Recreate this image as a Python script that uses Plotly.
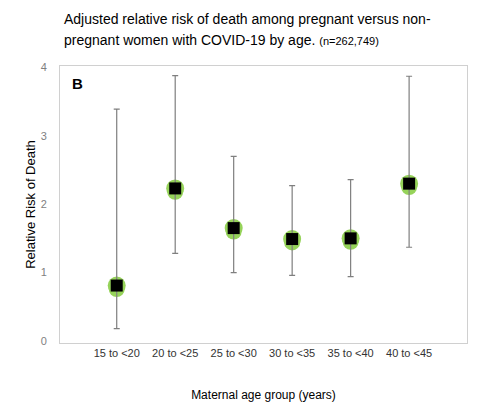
import plotly.graph_objects as go

# data
age_groups = ["15 to <20", "20 to <25", "25 to <30", "30 to <35", "35 to <40", "40 to <45"]
rr = [0.81, 2.23, 1.65, 1.49, 1.50, 2.30]
ci_low = [0.18, 1.28, 1.00, 0.96, 0.94, 1.37]
ci_high = [3.39, 3.88, 2.70, 2.27, 2.36, 3.87]

err_plus = [h - v for h, v in zip(ci_high, rr)]
err_minus = [v - l for v, l in zip(rr, ci_low)]

fig = go.Figure()

# green highlight blobs behind the points (two overlapping marks -> less perfect shape)
fig.add_trace(go.Scatter(
    x=age_groups, y=rr, mode="markers",
    marker=dict(symbol="circle", size=18, color="#96d35a"),
    hoverinfo="skip", showlegend=False))
fig.add_trace(go.Scatter(
    x=age_groups, y=[v - 0.05 for v in rr], mode="markers",
    marker=dict(symbol="circle", size=16, color="#96d35a"),
    hoverinfo="skip", showlegend=False))

# error bars + black square points
fig.add_trace(go.Scatter(
    x=age_groups, y=rr, mode="markers",
    marker=dict(symbol="square", size=12, color="black"),
    error_y=dict(type="data", symmetric=False, array=err_plus, arrayminus=err_minus,
                 color="#7f7f7f", thickness=1.2, width=3),
    showlegend=False))

fig.add_annotation(text="<b>B</b>", x=0.025, y=0.975, xref="paper", yref="paper",
                   xanchor="left", yanchor="top", showarrow=False,
                   font=dict(size=15, color="black"))

# two-line heading, placed as annotations so the line gap matches
fig.add_annotation(text="Adjusted relative risk of death among pregnant versus non-",
                   x=0.005, y=1.1685, xref="paper", yref="paper",
                   xanchor="left", yanchor="middle", showarrow=False,
                   font=dict(size=14, color="black"))
fig.add_annotation(text="pregnant women with COVID-19 by age. <span style='font-size:11px'>(n=262,749)</span>",
                   x=0.005, y=1.095, xref="paper", yref="paper",
                   xanchor="left", yanchor="middle", showarrow=False,
                   font=dict(size=14, color="black"))

fig.update_layout(
    width=469, height=400,
    margin=dict(l=52, r=10, t=58, b=65),
    plot_bgcolor="white", paper_bgcolor="white",
    font=dict(family="Liberation Sans, Arial, sans-serif", color="black"),
    xaxis=dict(
        range=[-0.97, 5.99], showgrid=False, zeroline=False, automargin=False,
        showline=True, linecolor="#d0d0d0", linewidth=1, mirror=True,
        tickfont=dict(size=11, color="#333333"), ticklabelstandoff=0,
        title=dict(text="Maternal age group (years)", font=dict(size=12), standoff=32)),
    yaxis=dict(
        range=[-0.03, 4.02], tickvals=[0, 1, 2, 3, 4], showgrid=False, zeroline=False,
        automargin=False,
        showline=True, linecolor="#d0d0d0", linewidth=1, mirror=True,
        tickfont=dict(size=11, color="#7f7f7f"), ticklabelstandoff=10,
        title=dict(text="Relative Risk of Death", font=dict(size=13), standoff=2)),
)

fig.write_html("out.html")
